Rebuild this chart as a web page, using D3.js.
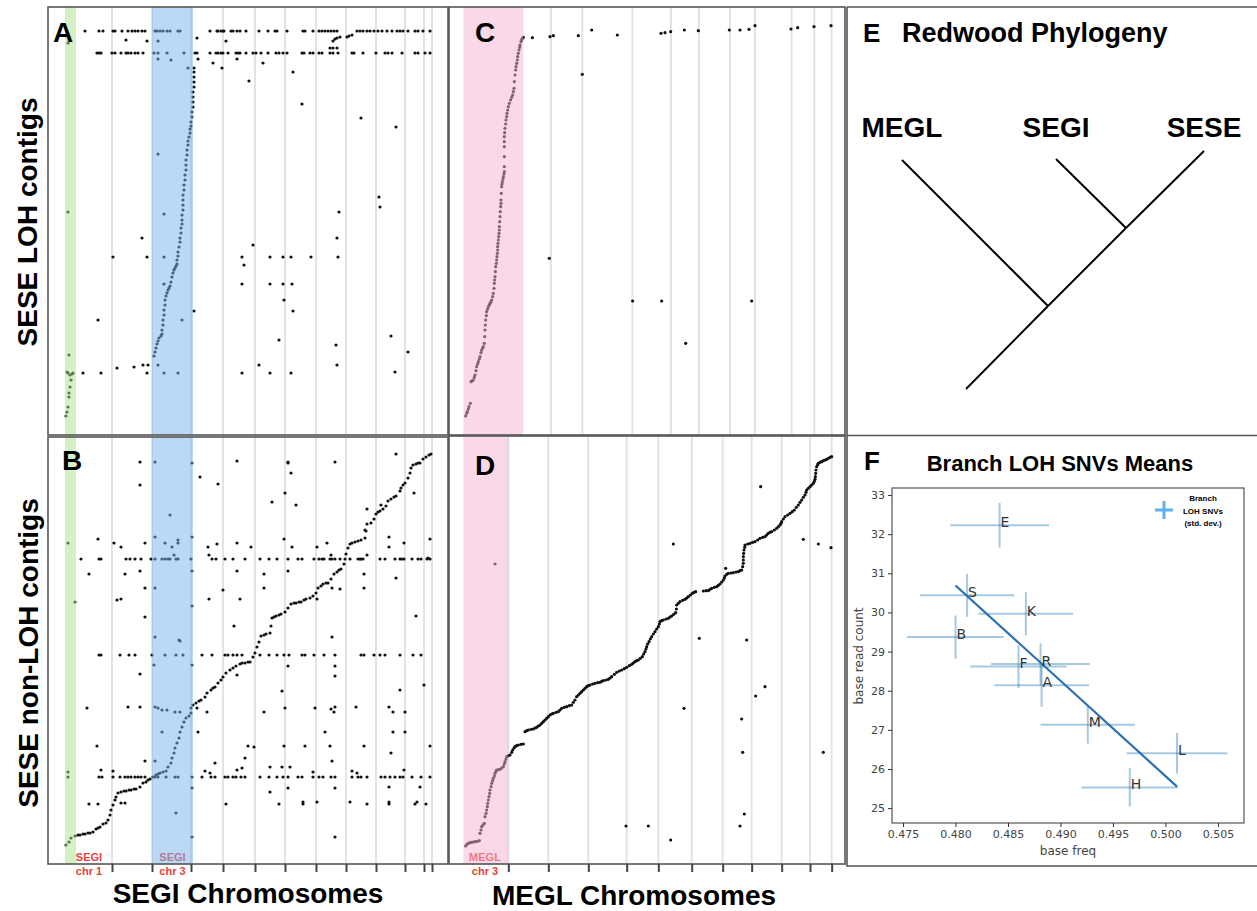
<!DOCTYPE html>
<html>
<head>
<meta charset="utf-8">
<script src="https://cdn.jsdelivr.net/npm/d3@7"></script>
<style>
body { margin: 0; background: #fff; }
svg { display: block; font-family: "Liberation Sans", Arial, sans-serif; }
</style>
</head>
<body>
<svg id="fig" width="1257" height="911"></svg>
<script>
// ---- SEGI coordinates (panels A, B): x = position along SEGI genome, y = SESE contig rank ----
const segiBounds = [50, 90, 129, 161, 193, 223, 254, 284, 314, 343, 362, 370];
const segiChr1Band = [3, 14];
const segiChr3Band = [90, 131];

// A: SESE LOH contigs vs SEGI
const lohSegiCurve = [[92,74],[93,78],[94,82],[95,86],[96,89],[97,92],[99,94],[100,96],[100,100],[101,105],[101,110],[102,115],[102,120],[103,125],[103,130],[104,134],[105,137],[106,140],[107,142],[108,144],[109,148],[110,153],[111,157],[112,160],[113,162],[114,164],[115,166],[115,170],[116,174],[116,178],[117,183],[118,188],[118,192],[119,197],[119,202],[120,206],[120,210],[120,215],[121,220],[121,225],[121,230],[121,235],[122,240],[122,245],[123,250],[123,255],[124,260],[124,265],[124,270],[125,275],[125,280],[126,285],[126,289],[127,293],[128,297],[128,301],[129,304],[129,308],[130,313],[130,318],[131,323],[131,328],[131,333],[131,338],[132,343],[132,348],[132,353],[132,358],[132,362]];
const lohSegiChr1 = [[4,14],[5,18],[6,23],[7,33],[7,37],[8,43],[9,50],[11,57],[10,56],[8,55],[6,57],[5,58],[7,75],[6,218],[6,387]];
const lohSegiScatter = [[21,57],[39,57],[55,62],[72,63],[81,65],[86,65],[85,57],[96,65],[102,57],[116,57],[180,57],[197,65],[208,57],[229,57],[275,65],[333,58],[36,110],[51,173],[85,173],[102,173],[80,192],[96,276],[102,216],[102,146],[120,110],[132,119],[180,173],[182,165],[191,185],[208,173],[221,173],[229,173],[249,173],[276,173],[275,192],[277,218],[180,146],[208,146],[221,146],[230,146],[222,130],[231,119],[217,90],[274,85],[329,94],[346,78],[317,233],[318,223],[299,312],[334,303],[240,326],[231,358],[187,349],[126,362],[135,392],[64,390],[85,389],[96,389],[96,371],[109,370],[136,371],[151,367],[160,362],[175,371],[201,367],[164,389],[271,389],[273,391],[275,392],[278,393],[285,393],[287,394],[290,395],[268,382],[271,382],[275,382]];
const lohSegiRows = [
  {y: 399, xs: [23,37,41,51,53,60,66,70,73,76,80,83,93,95,98,101,105,108,116,118,148,155,156,159,161,162,169,171,175,178,184,197,206,213,215,225,241,243,251,257,260,263,266,269,272,275,295,298,301,305,308,312,316,320,325,330,335,338,341,346,353,356,361,368]},
  {y: 377, xs: [35,37,39,50,53,59,64,66,69,73,76,81,92,96,105,122,133,135,148,154,156,159,161,166,174,176,178,184,191,194,199,206,214,217,221,225,240,242,248,251,257,260,268,271,276,290,292,301,314,323,326,330,340,353,356,363,368]}
];

// B: SESE non-LOH contigs vs SEGI
const nonSegiCurve = [[4,15],[7,18],[9,22],[13,24],[16,25],[18,25],[21,26],[23,26],[26,27],[28,27],[31,28],[34,31],[36,32],[38,33],[41,36],[44,37],[46,40],[48,45],[49,50],[51,55],[53,60],[54,63],[56,67],[59,68],[62,69],[64,69],[67,70],[69,70],[72,71],[74,71],[78,73],[81,77],[84,78],[86,80],[88,81],[91,83],[94,85],[96,86],[98,87],[101,88],[104,89],[106,93],[109,97],[110,102],[112,107],[113,112],[115,117],[117,122],[118,128],[120,133],[122,138],[124,142],[127,144],[129,147],[129,152],[131,155],[134,157],[137,159],[139,160],[143,163],[145,167],[149,170],[151,172],[153,173],[156,177],[159,180],[161,183],[164,187],[168,190],[171,192],[174,194],[178,196],[180,197],[183,197],[186,198],[188,198],[191,203],[193,207],[195,213],[197,218],[199,224],[202,225],[204,226],[208,227],[209,234],[210,242],[212,243],[214,244],[217,245],[219,246],[223,248],[226,252],[229,256],[232,257],[234,257],[237,258],[239,258],[242,260],[244,261],[248,262],[251,264],[254,267],[256,272],[259,274],[261,276],[264,277],[266,277],[269,281],[272,286],[275,288],[277,290],[279,291],[282,296],[283,301],[284,306],[286,312],[288,316],[290,317],[293,318],[296,319],[299,320],[303,322],[304,329],[305,336],[309,337],[312,341],[314,346],[316,348],[318,349],[321,351],[324,354],[326,359],[329,361],[332,363],[334,364],[338,369],[339,372],[341,375],[343,377],[346,382],[348,387],[349,392],[351,395],[354,396],[356,397],[358,397],[361,401],[364,403],[367,405],[369,406]];
const nonSegiRows = [
  {y: 301, xs: [19,37,39,64,68,73,79,89,93,100,103,106,108,114,116,129,150,154,163,171,183,198,207,215,226,236,240,252,257,260,262,268,270,273,278,288,296,298,299,301,318,323,333,338,340,342,350,356,359,365,368]},
  {y: 205, xs: [37,39,58,67,73,90,103,114,121,140,150,163,166,171,175,180,198,207,215,222,227,240,243,252,262,273,299,302,312,318,323,338,351,359]},
  {y: 83, xs: [6,37,40,51,58,63,66,69,73,76,79,83,93,96,104,113,116,130,140,149,153,163,166,171,174,179,183,198,207,215,221,226,236,240,251,257,261,269,273,290,296,299,305,319,323,328,333,338,341,350,359,368]}
];
const nonSegiScatter = [[78,398],[93,398],[130,397],[175,399],[138,383],[156,376],[78,375],[108,345],[36,321],[52,317],[59,313],[6,317],[83,317],[93,323],[103,317],[110,313],[116,320],[116,317],[130,323],[146,313],[155,316],[175,317],[112,305],[147,305],[27,286],[63,286],[78,289],[130,289],[175,289],[83,272],[93,272],[161,270],[13,258],[55,260],[59,261],[130,254],[147,261],[178,261],[83,243],[172,234],[93,223],[117,220],[118,219],
  [189,313],[226,398],[226,397],[273,398],[334,406],[229,387],[223,367],[210,358],[234,355],[352,367],[305,351],[319,355],[222,321],[230,313],[255,313],[265,317],[327,323],[327,313],[342,317],[368,321],[303,330],[269,305],[305,305],[366,302],[202,286],[226,289],[302,286],[202,272],[270,272],[278,271],[302,272],[334,282],[255,261],[354,244],[270,223],
  [92,195],[130,195],[78,186],[175,185],[25,152],[66,153],[78,153],[93,153],[96,152],[100,150],[105,150],[113,148],[118,148],[135,152],[145,148],[100,128],[136,128],[35,114],[83,99],[93,99],[39,90],[51,89],[183,102],[6,88],[143,89],[148,87],[153,97],[175,90],[180,92],[130,72],[27,56],[36,56],[59,57],[63,57],[164,56],[114,47],[130,23],
  [226,194],[273,194],[273,184],[220,169],[338,170],[362,175],[202,148],[223,152],[253,152],[269,151],[272,148],[273,153],[294,153],[327,153],[331,148],[343,148],[263,128],[331,128],[343,128],[186,114],[192,113],[222,114],[243,114],[268,114],[302,114],[368,114],[329,107],[270,99],[208,93],[220,93],[228,93],[251,88],[290,89],[295,87],[342,90],[208,68],[226,72],[273,72],[327,73],[358,73],[217,56],[241,58],[241,56],[255,58],[288,58],[305,56],[327,58],[327,56],[353,56],[355,58],[364,56],[273,23]];

// ---- MEGL coordinates (panels C, D) ----
const meglBoundsC = [318, 412, 562, 678, 762, 855, 930, 1040, 1108, 1160];
const meglBoundsD = [190, 310, 430, 545, 640, 740, 833, 920, 1010, 1095, 1160];
const meglChr3BandC = [55, 235];
const meglChr3BandD = [55, 190];

const lohMeglCurve = [[62,72],[65,80],[67,85],[70,93],[72,100],[76,110],[78,175],[82,178],[85,180],[88,188],[90,195],[93,208],[95,220],[98,228],[100,235],[103,243],[105,250],[108,262],[110,270],[113,276],[115,280],[118,290],[119,310],[120,330],[121,345],[122,360],[124,373],[125,385],[128,393],[130,400],[133,405],[135,410],[138,415],[140,420],[143,430],[145,440],[147,455],[148,470],[149,480],[150,490],[151,505],[152,520],[154,530],[155,540],[156,550],[157,560],[158,570],[158,580],[159,590],[160,600],[161,610],[162,620],[163,630],[163,640],[164,655],[165,670],[166,685],[167,700],[168,710],[168,720],[169,740],[170,760],[171,768],[172,775],[174,783],[175,790],[177,798],[178,805],[178,820],[178,850],[178,880],[178,895],[178,910],[179,922],[180,935],[182,948],[183,960],[185,970],[186,980],[188,990],[190,1000],[193,1010],[197,1020],[200,1028],[203,1035],[205,1045],[207,1055],[208,1075],[210,1095],[212,1110],[213,1120],[215,1130],[217,1140],[218,1150],[220,1160],[222,1170],[224,1178],[225,1185],[228,1195],[230,1200],[232,1205],[235,1208]];
const lohMeglScatter = [[262,1207],[315,1210],[325,1213],[400,1213],[440,1230],[517,1215],[648,1220],[660,1222],[677,1225],[718,1230],[760,1228],[853,1230],[885,1230],[912,1232],[930,1243],[1038,1233],[1058,1237],[1107,1240],[1158,1243],[412,1097],[313,545],[563,417],[650,417],[920,417],[722,290]];

const nonMeglCurve = [[62,52],[66,57],[70,60],[75,62],[80,63],[85,64],[90,65],[97,66],[103,68],[105,90],[108,100],[110,110],[114,115],[118,120],[120,140],[123,150],[125,160],[127,170],[128,180],[130,190],[132,200],[134,210],[135,220],[138,230],[140,240],[143,248],[145,255],[148,262],[150,270],[153,276],[155,280],[160,281],[165,282],[170,286],[175,290],[178,298],[180,305],[183,313],[185,320],[190,323],[195,325],[200,333],[203,340],[207,346],[210,350],[215,353],[220,355],[228,357],[235,358],[240,395],[245,398],[250,400],[258,402],[265,403],[270,406],[275,408],[280,412],[285,415],[290,420],[295,425],[300,430],[305,435],[310,440],[315,445],[320,448],[325,450],[333,453],[340,455],[345,460],[350,465],[358,468],[365,470],[373,473],[380,475],[385,483],[390,490],[395,500],[400,505],[405,510],[410,515],[415,520],[420,525],[425,530],[430,533],[435,535],[443,538],[450,540],[458,542],[465,543],[470,546],[475,548],[483,550],[490,552],[495,556],[500,560],[508,567],[515,573],[523,577],[530,580],[538,584],[545,588],[553,593],[560,597],[565,601],[570,605],[575,608],[580,610],[586,615],[592,620],[596,628],[600,635],[603,643],[605,650],[608,658],[612,665],[616,673],[620,680],[625,688],[630,695],[635,703],[640,710],[643,718],[645,725],[650,728],[655,730],[663,733],[670,735],[675,739],[680,742],[686,747],[692,752],[694,763],[695,775],[700,780],[705,785],[713,789],[720,792],[725,796],[730,800],[736,805],[742,810],[747,813],[752,815],[775,817],[783,818],[790,818],[795,822],[800,825],[808,828],[815,830],[820,834],[825,838],[830,844],[835,850],[838,856],[840,862],[845,867],[850,870],[858,871],[865,872],[873,874],[880,875],[885,878],[890,880],[893,890],[895,900],[895,910],[895,920],[896,930],[897,940],[899,948],[900,955],[908,958],[915,960],[923,963],[930,965],[938,970],[945,975],[953,978],[960,980],[965,985],[970,990],[975,993],[980,995],[988,1000],[995,1005],[1000,1010],[1005,1015],[1008,1020],[1010,1025],[1015,1033],[1020,1040],[1028,1045],[1035,1050],[1042,1055],[1048,1060],[1054,1068],[1060,1075],[1065,1083],[1070,1090],[1075,1098],[1080,1105],[1083,1113],[1085,1120],[1090,1125],[1095,1130],[1100,1135],[1105,1140],[1108,1146],[1110,1152],[1111,1160],[1112,1170],[1113,1180],[1115,1190],[1118,1196],[1120,1200],[1125,1203],[1130,1205],[1135,1208],[1140,1210],[1145,1212],[1150,1215],[1155,1218],[1160,1220]];
const nonMeglScatter = [[150,898],[685,958],[947,1130],[1075,972],[1120,958],[1158,947],[842,885],[763,675],[905,670],[960,530],[932,502],[717,465],[890,433],[893,333],[1135,333],[898,148],[885,112],[543,112],[610,112],[677,70]];

// ---- F: branch LOH SNV means ----
const branches = ["E", "S", "K", "B", "F", "R", "A", "M", "L", "H"];
const freqMean = [0.4842, 0.4811, 0.4867, 0.4800, 0.4860, 0.4881, 0.4882, 0.4926, 0.5011, 0.4966];
const freqSd = [0.0047, 0.0045, 0.0045, 0.0046, 0.0046, 0.0047, 0.0045, 0.0045, 0.0048, 0.0046];
const countMean = [32.23, 30.44, 29.97, 29.37, 28.62, 28.68, 28.14, 27.13, 26.40, 25.53];
const countSd = [0.57, 0.55, 0.55, 0.55, 0.55, 0.53, 0.55, 0.48, 0.52, 0.49];
const fitFreq = [0.4800, 0.5011];
const fitCount = [30.69, 25.55];
const freqTicks = [0.475, 0.480, 0.485, 0.490, 0.495, 0.500, 0.505];
const countTicks = [25, 26, 27, 28, 29, 30, 31, 32, 33];

// ---- E: phylogeny (x = horizontal spread, y = depth from root) ----
const treeNodes = {
  root: [64, 0], n1: [146, 83], n2: [224, 161],
  MEGL: [0, 229], SEGI: [154, 230], SESE: [302, 238]
};
const treeEdges = [["root","n1"], ["n1","MEGL"], ["n1","n2"], ["n2","SEGI"], ["n2","SESE"]];
const treeLeaves = ["MEGL", "SEGI", "SESE"];

const svg = d3.select("#fig");
const red = "#e8413a";

function flatRows(rows) {
  return rows.flatMap(r => r.xs.map(x => [x, r.y]));
}

function dotPanel(p) {
  const g = svg.append("g");
  g.selectAll("line.grid")
    .data(p.grid)
    .join("line")
    .attr("x1", d => p.x(d)).attr("x2", d => p.x(d))
    .attr("y1", p.top).attr("y2", p.bottom)
    .attr("stroke", "#e3e3e3")
    .attr("stroke-width", 2);
  if (p.under) p.under(g);
  g.selectAll("circle")
    .data(p.points)
    .join("circle")
    .attr("cx", d => p.x(d[0]))
    .attr("cy", d => p.y(d[1]))
    .attr("r", 1.6)
    .attr("fill", "#111");
  p.bands.forEach(b => {
    g.append("rect")
      .attr("x", p.x(b.range[0]))
      .attr("width", p.x(b.range[1]) - p.x(b.range[0]))
      .attr("y", p.top)
      .attr("height", p.bottom - p.top)
      .attr("fill", b.color)
      .attr("fill-opacity", 0.5);
  });
  g.append("rect")
    .attr("x", p.left).attr("y", p.top)
    .attr("width", p.right - p.left)
    .attr("height", p.bottom - p.top)
    .attr("fill", "none")
    .attr("stroke", "#555")
    .attr("stroke-width", 1.6);
  g.append("text")
    .attr("x", p.letterPos[0]).attr("y", p.letterPos[1])
    .attr("font-size", 28).attr("font-weight", "bold")
    .text(p.letter);
  return g;
}

function chrLabel(g, x, lines) {
  g.append("text")
    .attr("x", x).attr("y", 861)
    .attr("text-anchor", "middle")
    .attr("font-size", 11).attr("font-weight", "bold")
    .attr("fill", red)
    .selectAll("tspan")
    .data(lines)
    .join("tspan")
    .attr("x", x)
    .attr("dy", (d, i) => i ? 14 : 0)
    .text(d => d);
}

// scales
const xSegi = d3.scaleLinear().domain([0, 372]).range([62, 434]);
const yLohA = d3.scaleLinear().domain([0, 430]).range([430, 0]);
const yNonB = d3.scaleLinear().domain([0, 430]).range([860, 430]);
const xMegl = d3.scaleLinear().domain([0, 1200]).range([445, 845]);
const yLohC = d3.scaleLinear().domain([0, 1320]).range([440, 0]);
const yNonD = d3.scaleLinear().domain([0, 1300]).range([863.33, 430]);

const green = "#aae18c", blue = "#78b4f0", pink = "#f3b2d1";

// Panel A
dotPanel({
  x: xSegi, y: yLohA, left: 48, right: 448, top: 7, bottom: 435,
  grid: segiBounds,
  points: lohSegiCurve.concat(lohSegiChr1, lohSegiScatter, flatRows(lohSegiRows)),
  bands: [{range: segiChr1Band, color: green}, {range: segiChr3Band, color: blue}],
  letter: "A", letterPos: [53, 42]
});

// Panel B
const gB = dotPanel({
  x: xSegi, y: yNonB, left: 48, right: 448, top: 437, bottom: 864,
  grid: segiBounds,
  points: nonSegiCurve.concat(nonSegiScatter, flatRows(nonSegiRows)),
  bands: [{range: segiChr1Band, color: green}, {range: segiChr3Band, color: blue}],
  under: g => {
    chrLabel(g, 89, ["SEGI", "chr 1"]);
    chrLabel(g, xSegi(110.5), ["SEGI", "chr 3"]);
  },
  letter: "B", letterPos: [62, 470]
});
gB.append("g")
  .attr("transform", "translate(0,864)")
  .call(d3.axisBottom(xSegi).tickValues(segiBounds).tickFormat("").tickSize(8))
  .call(a => a.select(".domain").remove())
  .selectAll("line").attr("stroke", "#444").attr("stroke-width", 2);

// Panel C
dotPanel({
  x: xMegl, y: yLohC, left: 449, right: 845, top: 7, bottom: 435,
  grid: meglBoundsC,
  points: lohMeglCurve.concat(lohMeglScatter),
  bands: [{range: meglChr3BandC, color: pink}],
  letter: "C", letterPos: [475, 42]
});

// Panel D
const gD = dotPanel({
  x: xMegl, y: yNonD, left: 449, right: 845, top: 436, bottom: 864,
  grid: meglBoundsD,
  points: nonMeglCurve.concat(nonMeglScatter),
  bands: [{range: meglChr3BandD, color: pink}],
  under: g => chrLabel(g, 485, ["MEGL", "chr 3"]),
  letter: "D", letterPos: [475, 475]
});
gD.append("g")
  .attr("transform", "translate(0,864)")
  .call(d3.axisBottom(xMegl).tickValues(meglBoundsD).tickFormat("").tickSize(8))
  .call(a => a.select(".domain").remove())
  .selectAll("line").attr("stroke", "#444").attr("stroke-width", 2);

// axis titles for A-D
svg.append("text")
  .attr("transform", "translate(37,222) rotate(-90)")
  .attr("text-anchor", "middle").attr("font-size", 28).attr("font-weight", "bold")
  .text("SESE LOH contigs");
svg.append("text")
  .attr("transform", "translate(38,653) rotate(-90)")
  .attr("text-anchor", "middle").attr("font-size", 28).attr("font-weight", "bold")
  .text("SESE non-LOH contigs");
svg.append("text")
  .attr("x", 248).attr("y", 903)
  .attr("text-anchor", "middle").attr("font-size", 28).attr("font-weight", "bold")
  .text("SEGI Chromosomes");
svg.append("text")
  .attr("x", 634).attr("y", 905)
  .attr("text-anchor", "middle").attr("font-size", 28).attr("font-weight", "bold")
  .text("MEGL Chromosomes");

// Panel E / F frame
svg.append("path")
  .attr("d", "M847,7H1257M847,7V866H1257M847,435.5H1257")
  .attr("fill", "none").attr("stroke", "#555").attr("stroke-width", 1.6);

// Panel E: phylogeny
const xTree = d3.scaleLinear().domain([0, 302]).range([902, 1204]);
const yTree = d3.scaleLinear().domain([0, 238]).range([389, 151]);
const gE = svg.append("g");
gE.append("text").attr("x", 863).attr("y", 42)
  .attr("font-size", 26).attr("font-weight", "bold").text("E");
gE.append("text").attr("x", 902).attr("y", 42)
  .attr("font-size", 27).attr("font-weight", "bold").text("Redwood Phylogeny");
gE.selectAll("line")
  .data(treeEdges)
  .join("line")
  .attr("x1", d => xTree(treeNodes[d[0]][0]))
  .attr("y1", d => yTree(treeNodes[d[0]][1]))
  .attr("x2", d => xTree(treeNodes[d[1]][0]))
  .attr("y2", d => yTree(treeNodes[d[1]][1]))
  .attr("stroke", "#000").attr("stroke-width", 2);
gE.selectAll("text.leaf")
  .data(treeLeaves)
  .join("text")
  .attr("class", "leaf")
  .attr("x", d => xTree(treeNodes[d][0]))
  .attr("y", 137)
  .attr("text-anchor", "middle")
  .attr("font-size", 28).attr("font-weight", "bold")
  .text(d => d);

// Panel F: scatter with error bars
const xF = d3.scaleLinear().domain([0.47395, 0.50748]).range([892, 1244]);
const yF = d3.scaleLinear().domain([24.62, 33.18]).range([823, 488]);
const gF = svg.append("g");
gF.append("text").attr("x", 864).attr("y", 470)
  .attr("font-size", 26).attr("font-weight", "bold").text("F");
gF.append("text").attr("x", 1060).attr("y", 471)
  .attr("text-anchor", "middle")
  .attr("font-size", 22).attr("font-weight", "bold").text("Branch LOH SNVs Means");

const branchData = branches.map((b, i) => ({
  name: b, fx: freqMean[i], fsd: freqSd[i], cy: countMean[i], csd: countSd[i]
}));

const errG = gF.append("g").attr("stroke", "#1f77b4").attr("stroke-opacity", 0.4).attr("stroke-width", 2);
errG.selectAll("line.h")
  .data(branchData)
  .join("line").attr("class", "h")
  .attr("x1", d => xF(d.fx - d.fsd)).attr("x2", d => xF(d.fx + d.fsd))
  .attr("y1", d => yF(d.cy)).attr("y2", d => yF(d.cy));
errG.selectAll("line.v")
  .data(branchData)
  .join("line").attr("class", "v")
  .attr("x1", d => xF(d.fx)).attr("x2", d => xF(d.fx))
  .attr("y1", d => yF(d.cy - d.csd)).attr("y2", d => yF(d.cy + d.csd));

gF.append("line")
  .attr("x1", xF(fitFreq[0])).attr("y1", yF(fitCount[0]))
  .attr("x2", xF(fitFreq[1])).attr("y2", yF(fitCount[1]))
  .attr("stroke", "#2c6fae").attr("stroke-width", 2.2);

gF.selectAll("text.branch")
  .data(branchData)
  .join("text").attr("class", "branch")
  .attr("x", d => xF(d.fx) + 1)
  .attr("y", d => yF(d.cy) + 2)
  .attr("font-family", "DejaVu Sans, sans-serif")
  .attr("font-size", 14).attr("fill", "#333")
  .text(d => d.name);

// axes
const axX = gF.append("g").attr("transform", "translate(0,823)")
  .call(d3.axisBottom(xF).tickValues(freqTicks).tickFormat(d3.format(".3f")).tickSize(4).tickSizeOuter(0));
const axY = gF.append("g").attr("transform", "translate(892,0)")
  .call(d3.axisLeft(yF).tickValues(countTicks).tickFormat(d3.format("d")).tickSize(4).tickSizeOuter(0));
[axX, axY].forEach(a => {
  a.select(".domain").remove();
  a.selectAll("line").attr("stroke", "#333");
  a.selectAll("text").attr("font-family", "DejaVu Sans, sans-serif").attr("font-size", 11).attr("fill", "#444");
});
gF.append("rect")
  .attr("x", 892).attr("y", 488).attr("width", 352).attr("height", 335)
  .attr("fill", "none").attr("stroke", "#333").attr("stroke-width", 1);
gF.append("text")
  .attr("transform", "translate(863,656) rotate(-90)")
  .attr("text-anchor", "middle")
  .attr("font-family", "DejaVu Sans, sans-serif").attr("font-size", 12).attr("fill", "#444")
  .text("base read count");
gF.append("text")
  .attr("x", 1068).attr("y", 855)
  .attr("text-anchor", "middle")
  .attr("font-family", "DejaVu Sans, sans-serif").attr("font-size", 12).attr("fill", "#444")
  .text("base freq");

// legend
const leg = gF.append("g");
leg.append("path")
  .attr("d", "M1155,510H1173M1164,501V519")
  .attr("stroke", "#5fb0f0").attr("stroke-width", 3);
leg.append("text")
  .attr("text-anchor", "middle")
  .attr("font-size", 8).attr("font-weight", "bold")
  .selectAll("tspan")
  .data(["Branch", "LOH SNVs", "(std. dev.)"])
  .join("tspan")
  .attr("x", 1203)
  .attr("y", (d, i) => 501 + i * 12.5)
  .text(d => d);
</script>
</body>
</html>
